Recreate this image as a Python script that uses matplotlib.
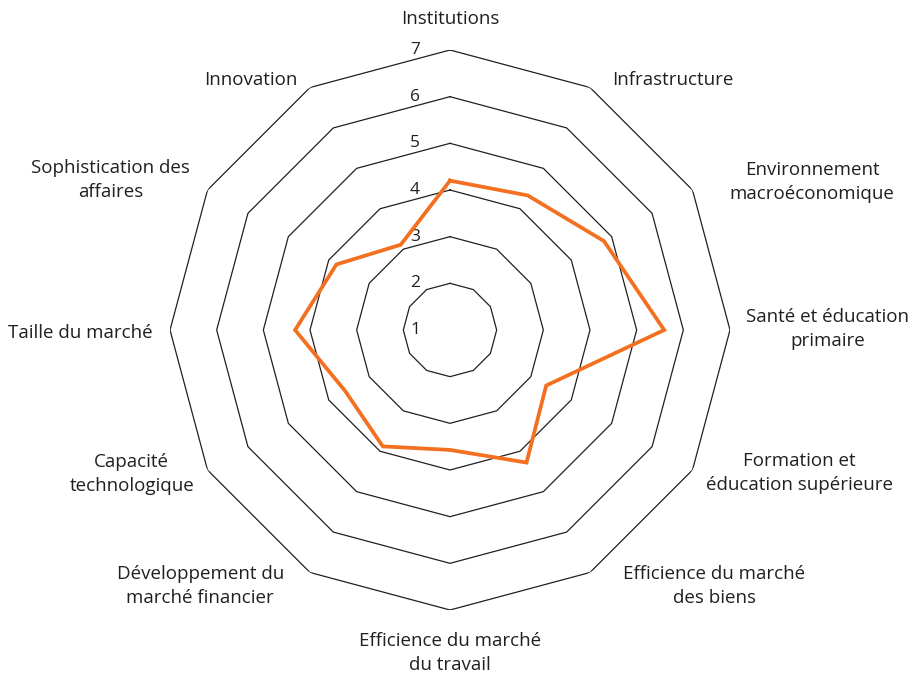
import matplotlib.pyplot as plt
import numpy as np

categories = ["Institutions", "Infrastructure", "Environnement\nmacroéconomique",
              "Santé et éducation\nprimaire", "Formation et\néducation supérieure",
              "Efficience du marché\ndes biens", "Efficience du marché\ndu travail",
              "Développement du\nmarché financier", "Capacité\ntechnologique",
              "Taille du marché", "Sophistication des\naffaires", "Innovation"]
scores = [4.2, 4.33, 4.81, 5.59, 3.38, 4.28, 3.57, 3.88, 3.6, 4.32, 3.81, 3.11]
levels = [1, 2, 3, 4, 5, 6, 7]

text_color = '#231f20'
orange = '#f37021'

plt.rcParams['font.family'] = ['Open Sans', 'DejaVu Sans']

fig = plt.figure(figsize=(9.21, 6.75), dpi=100)
ax = fig.add_axes([170 / 921, 65 / 675, 560 / 921, 560 / 675], projection='polar')
ax.set_theta_zero_location('N')
ax.set_theta_direction(-1)
ax.set_ylim(1, 7)
ax.grid(False)
ax.spines['polar'].set_visible(False)
ax.set_xticks([])
ax.set_yticks([])

angles = np.linspace(0, 2 * np.pi, len(categories), endpoint=False)
closed = np.append(angles, angles[0])

# polygon rings
for lv in levels[1:]:
    ax.plot(closed, [lv] * len(closed), color=text_color, lw=0.9, zorder=1)

# scale labels left of the vertical axis
for lv in levels:
    ax.annotate(str(lv), (0, lv), xytext=(-35, 0), textcoords='offset pixels',
                ha='center', va='center', fontsize=12.5, color=text_color)

vals = scores + scores[:1]
ax.plot(closed, vals, color=orange, lw=2.7, zorder=3, solid_joinstyle='miter')

# small pixel nudges so the labels sit like the original layout
nudge = [(0, 2), (12, -10), (20, -2), (-4, 1), (-4, 7), (23, 4),
         (0, -2), (-16, 4), (4, 6), (3, -3), (0, 0), (-2, -10)]

for ang, name, (dx, dy) in zip(angles, categories, nudge):
    s, c = np.sin(ang), np.cos(ang)
    ha = 'left' if s > 0.01 else ('right' if s < -0.01 else 'center')
    va = 'bottom' if c > 0.99 else ('top' if c < -0.99 else 'center')
    ax.annotate(name, (ang, 7.43), xytext=(dx, dy), textcoords='offset pixels',
                ha=ha, va=va, multialignment='center', annotation_clip=False,
                fontsize=13.5, color=text_color, linespacing=1.4)

plt.savefig('out.png', dpi=100)
